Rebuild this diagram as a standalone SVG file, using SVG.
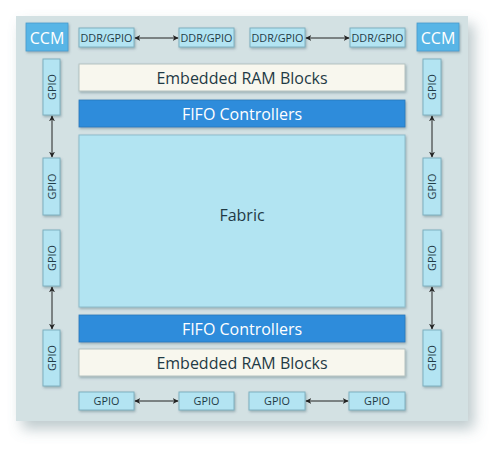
<svg xmlns="http://www.w3.org/2000/svg" width="500" height="452" viewBox="0 0 500 452">
<defs>
<filter id="panelShadow" x="-10%" y="-10%" width="125%" height="125%">
<feDropShadow dx="6" dy="8" stdDeviation="7" flood-color="#6d8a90" flood-opacity="0.45"/>
</filter>
<filter id="boxShadow" x="-10%" y="-10%" width="130%" height="140%">
<feDropShadow dx="1" dy="1.5" stdDeviation="0.8" flood-color="#4d6f78" flood-opacity="0.45"/>
</filter>
<marker id="ah" viewBox="0 0 10 10" refX="9" refY="5" markerWidth="6" markerHeight="6" orient="auto-start-reverse" markerUnits="userSpaceOnUse">
<path d="M0,0 L10,5 L0,10 L3,5 z" fill="#222"/>
</marker>
<style>
.io{fill:#b3e4f2;stroke:#7fb0c0;stroke-width:1;filter:url(#boxShadow)}
.ccm{fill:#58b5e6;stroke:#4a9ccc;stroke-width:0.8;filter:url(#boxShadow)}
.ram{fill:#f8f7ee;stroke:#b5c3c2;stroke-width:1;filter:url(#boxShadow)}
.fifo{fill:#2e8cdb;stroke:#2a78bb;stroke-width:0.8;filter:url(#boxShadow)}
.fab{fill:#b2e4f2;stroke:#8dbccb;stroke-width:1;filter:url(#boxShadow)}
.t{font-family:"Open Sans","Noto Sans","Liberation Sans",sans-serif;fill:#1f3a45;text-anchor:middle}
.s{font-size:10.8px}
.w{fill:#ffffff}
.conn line{stroke:#222;stroke-width:1;marker-start:url(#ah);marker-end:url(#ah)}
</style>
</defs>
<rect x="16" y="16" width="452" height="405" fill="#d3e1e3" filter="url(#panelShadow)"/>
<g id="ccm-left"><rect class="ccm" x="26" y="23" width="42" height="28"/><text class="t w" x="47" y="43.5" font-size="16">CCM</text></g>
<g id="ccm-right"><rect class="ccm" x="417" y="23" width="42" height="28"/><text class="t w" x="438" y="43.5" font-size="16">CCM</text></g>
<g id="ddr1"><rect class="io" x="79" y="28" width="55" height="19"/><text class="t s" x="106.5" y="41.5">DDR/GPIO</text></g>
<g id="ddr2"><rect class="io" x="179" y="28" width="55" height="19"/><text class="t s" x="206.5" y="41.5">DDR/GPIO</text></g>
<g id="ddr3"><rect class="io" x="250" y="28" width="55" height="19"/><text class="t s" x="277.5" y="41.5">DDR/GPIO</text></g>
<g id="ddr4"><rect class="io" x="350" y="28" width="55" height="19"/><text class="t s" x="377.5" y="41.5">DDR/GPIO</text></g>
<g id="ram-top"><rect class="ram" x="79" y="64" width="326" height="27"/><text class="t" x="242" y="83.5" font-size="16">Embedded RAM Blocks</text></g>
<g id="fifo-top"><rect class="fifo" x="79" y="100" width="326" height="27"/><text class="t w" x="242" y="119.5" font-size="16">FIFO Controllers</text></g>
<g id="fabric"><rect class="fab" x="79" y="135" width="326" height="172"/><text class="t" x="242" y="221" font-size="16">Fabric</text></g>
<g id="fifo-bottom"><rect class="fifo" x="79" y="315" width="326" height="27"/><text class="t w" x="242" y="334.5" font-size="16">FIFO Controllers</text></g>
<g id="ram-bottom"><rect class="ram" x="79" y="349" width="326" height="27"/><text class="t" x="242" y="368.5" font-size="16">Embedded RAM Blocks</text></g>
<g id="gpio-b1"><rect class="io" x="79" y="392" width="55" height="18"/><text class="t s" x="106.5" y="405">GPIO</text></g>
<g id="gpio-b2"><rect class="io" x="179" y="392" width="55" height="18"/><text class="t s" x="206.5" y="405">GPIO</text></g>
<g id="gpio-b3"><rect class="io" x="249" y="392" width="56" height="18"/><text class="t s" x="277" y="405">GPIO</text></g>
<g id="gpio-b4"><rect class="io" x="349" y="392" width="56" height="18"/><text class="t s" x="377" y="405">GPIO</text></g>
<g id="gpio-l1"><rect class="io" x="43" y="59" width="17" height="56"/><text class="t s" transform="translate(55.5,87) rotate(-90)">GPIO</text></g>
<g id="gpio-l2"><rect class="io" x="43" y="158" width="17" height="57"/><text class="t s" transform="translate(55.5,186.5) rotate(-90)">GPIO</text></g>
<g id="gpio-l3"><rect class="io" x="43" y="230" width="17" height="56"/><text class="t s" transform="translate(55.5,258) rotate(-90)">GPIO</text></g>
<g id="gpio-l4"><rect class="io" x="43" y="330" width="17" height="56"/><text class="t s" transform="translate(55.5,358) rotate(-90)">GPIO</text></g>
<g id="gpio-r1"><rect class="io" x="423" y="59" width="18" height="56"/><text class="t s" transform="translate(436,87) rotate(-90)">GPIO</text></g>
<g id="gpio-r2"><rect class="io" x="423" y="158" width="18" height="57"/><text class="t s" transform="translate(436,186.5) rotate(-90)">GPIO</text></g>
<g id="gpio-r3"><rect class="io" x="423" y="230" width="18" height="56"/><text class="t s" transform="translate(436,258) rotate(-90)">GPIO</text></g>
<g id="gpio-r4"><rect class="io" x="423" y="330" width="18" height="56"/><text class="t s" transform="translate(436,358) rotate(-90)">GPIO</text></g>
<g id="connectors" class="conn">
<line x1="135" y1="38" x2="178" y2="38"/>
<line x1="306" y1="38" x2="349" y2="38"/>
<line x1="135" y1="401" x2="178" y2="401"/>
<line x1="306" y1="401" x2="348" y2="401"/>
<line x1="52" y1="116" x2="52" y2="157"/>
<line x1="52" y1="287" x2="52" y2="329"/>
<line x1="432" y1="116" x2="432" y2="157"/>
<line x1="432" y1="287" x2="432" y2="329"/>
</g>
</svg>
